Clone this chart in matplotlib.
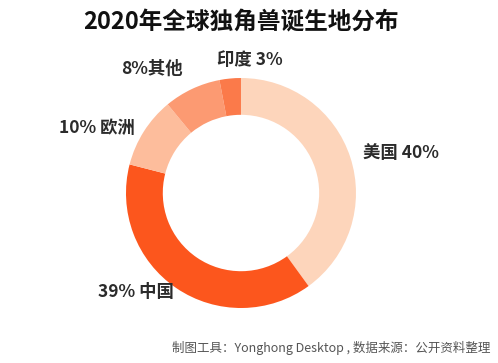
import matplotlib.pyplot as plt
import numpy as np

plt.rcParams['font.family'] = ['Noto Sans CJK SC', 'DejaVu Sans']

regions = ["美国", "中国", "欧洲", "其他", "印度"]
shares = [40, 39, 10, 8, 3]
label_fmt = ["{r} {p}%", "{p}% {r}", "{p}% {r}", "{p}%{r}", "{r} {p}%"]
colors = ["#fdd5bb", "#fc561d", "#fdbd9c", "#fc9a72", "#fb7a4a"]

fig = plt.figure(figsize=(4.98, 3.63), dpi=100)
ax = fig.add_axes([0.1606, 0.0248, 0.6466, 0.887])

wedges, _ = ax.pie(shares, colors=colors, startangle=90, counterclock=False,
                   radius=1.0, wedgeprops=dict(width=0.32, edgecolor="none"))

ax.set_xlim(-1.4, 1.4)
ax.set_ylim(-1.4, 1.4)
ax.set_aspect("equal")
ax.axis("off")

# label placement tweaks (distance from centre, sideways nudge)
dist = [1.12, 1.04, 1.05, 1.19, 1.16]
nudge = [0.0, 0.0, -0.04, 0.0, 0.19]
for i, w in enumerate(wedges):
    ang = np.deg2rad((w.theta1 + w.theta2) / 2)
    x = dist[i] * np.cos(ang) + nudge[i]
    y = dist[i] * np.sin(ang)
    if i == 4:
        ha = "center"
    elif x > 0:
        ha = "left"
    else:
        ha = "right"
    txt = label_fmt[i].format(r=regions[i], p=shares[i])
    ax.text(x, y, txt, ha=ha, va="center", fontsize=12.5, fontweight="bold",
            color="#2b2b2b")

fig.text(0.484, 0.939, "2020年全球独角兽诞生地分布", ha="center", va="center",
         fontsize=17, fontweight="bold", color="#111111")
fig.text(0.985, 0.041, "制图工具：Yonghong Desktop , 数据来源：公开资料整理",
         ha="right", va="center", fontsize=9, color="#555555")

fig.savefig("out.png", dpi=100)
